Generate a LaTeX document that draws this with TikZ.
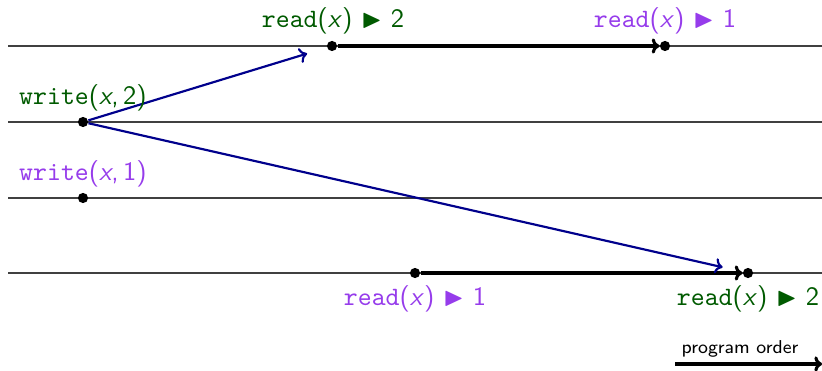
\documentclass[tikz,border=0pt]{standalone}
\usepackage{amssymb}
\usetikzlibrary{arrows.meta}
\definecolor{dgreen}{RGB}{0,90,0}
\definecolor{purp}{RGB}{150,60,235}
\definecolor{navyb}{RGB}{0,0,140}
\newcommand{\rdlab}[1]{\texttt{read}\textsf{(\textit{x})}~$\blacktriangleright$~\textsf{#1}}
\newcommand{\wrlab}[1]{\texttt{write}\textsf{(\textit{x},\,#1)}}
\begin{document}
\begin{tikzpicture}[x=0.3922pt,y=-0.3922pt,
  proc/.style={line width=0.45pt,draw=black!75},
  dot/.style={circle,fill=black,inner sep=0pt,minimum size=4pt},
  prog/.style={line width=1.2pt,-{To[length=3pt,width=6pt]}},
  msg/.style={line width=0.85pt,navyb,-{To[length=3pt,width=6pt]},shorten >=8pt},
  lbl/.style={anchor=base,inner sep=0pt,font=\fontsize{10.4}{12}\selectfont}]
\useasboundingbox (0,0) rectangle (822,371);
% process lines
\coordinate (l1a) at (8,46);  \coordinate (l1b) at (822,46);
\coordinate (l2a) at (8,122); \coordinate (l2b) at (822,122);
\coordinate (l3a) at (8,198); \coordinate (l3b) at (822,198);
\coordinate (l4a) at (8,273); \coordinate (l4b) at (822,273);
\draw[proc] (l1a) -- (l1b);
\draw[proc] (l2a) -- (l2b);
\draw[proc] (l3a) -- (l3b);
\draw[proc] (l4a) -- (l4b);
% events
\node[dot] (w2) at (83,122) {};
\node[dot] (w1) at (83,198) {};
\node[dot] (ra) at (332,46) {};
\node[dot] (rb) at (665,46) {};
\node[dot] (rc) at (415,273) {};
\node[dot] (rd) at (748,273) {};
% program order
\draw[prog] (ra) -- (rb);
\draw[prog] (rc) -- (rd);
% messages
\draw[msg] (w2) -- (ra);
\draw[msg] (w2) -- (rd);
% labels
\node[lbl,text=dgreen] (tw2) at (83,104) {\wrlab{2}};
\node[lbl,text=purp] (tw1) at (83,180) {\wrlab{1}};
\node[lbl,text=dgreen] (tra) at (333,28) {\rdlab{2}};
\node[lbl,text=purp] (trb) at (665,28) {\rdlab{1}};
\node[lbl,text=purp] (trc) at (415,305) {\rdlab{1}};
\node[lbl,text=dgreen] (trd) at (748,305) {\rdlab{2}};
% legend
\coordinate (pa) at (675,364);
\coordinate (pb) at (822,364);
\draw[prog] (pa) -- (pb);
\node[lbl,font=\sffamily\fontsize{7.3}{9}\selectfont] (tpo) at (740,353) {program order};
\end{tikzpicture}
\end{document}
